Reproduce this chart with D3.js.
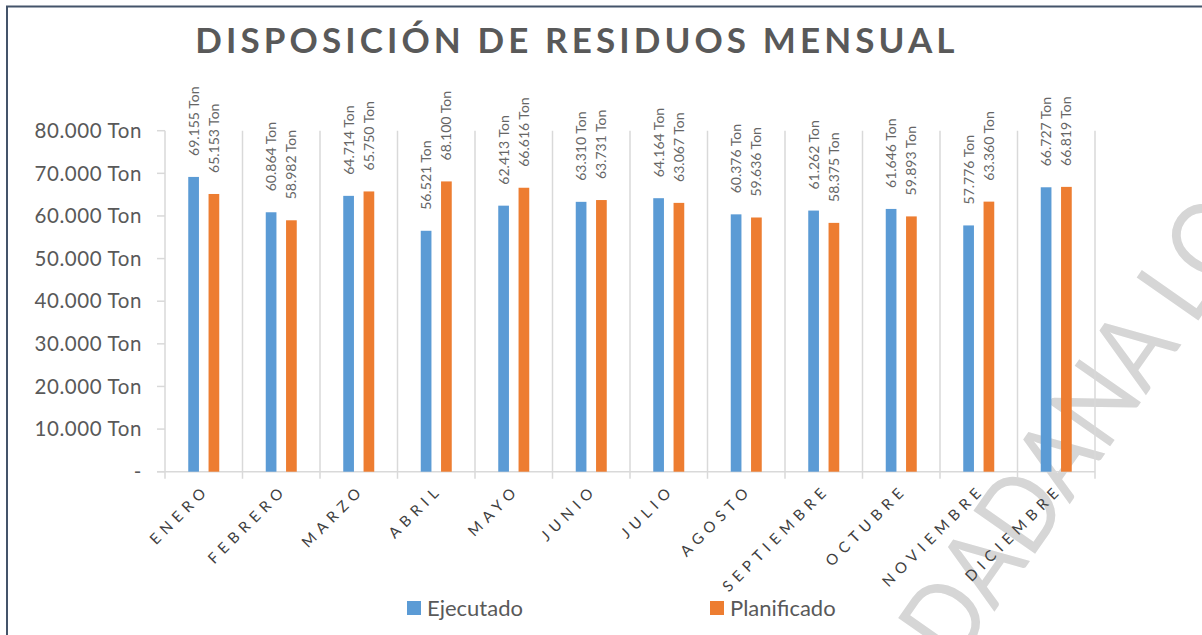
<!DOCTYPE html>
<html lang="es">
<head>
<meta charset="utf-8">
<script src="https://d3js.org/d3.v7.min.js"></script>
<title>Disposición de residuos mensual</title>
<style>
  body { margin: 0; background: #fff; }
  svg { display: block; font-family: Lato, "Open Sans", sans-serif; }
  .grid { stroke: #d9d9d9; stroke-width: 1.5px; fill: none; }
  .ytick { fill: #595959; font-size: 20.5px; letter-spacing: 0.6px; }
  .xlab { fill: #404040; font-size: 15px; letter-spacing: 5.5px; }
  .vlab { fill: #666666; font-size: 14px; }
  .legend text { fill: #595959; font-size: 22px; }
</style>
</head>
<body>
<script>
var width = 1202, height = 635;

var meses = ["ENERO", "FEBRERO", "MARZO", "ABRIL", "MAYO", "JUNIO", "JULIO",
             "AGOSTO", "SEPTIEMBRE", "OCTUBRE", "NOVIEMBRE", "DICIEMBRE"];
var series = ["Ejecutado", "Planificado"];
var ejecutado   = [69155, 60864, 64714, 56521, 62413, 63310, 64164, 60376, 61262, 61646, 57776, 66727];
var planificado = [65153, 58982, 65750, 68100, 66616, 63731, 63067, 59636, 58375, 59893, 63360, 66819];
var yTicks = [0, 10000, 20000, 30000, 40000, 50000, 60000, 70000, 80000];
var colores = ["#5b9bd5", "#ed7d31"];

var fmt = d3.formatLocale({decimal: ",", thousands: ".", grouping: [3], currency: ["", ""]}).format(",.0f");
function tonLabel(v) { return v === 0 ? "-" : fmt(v) + " Ton"; }

var svg = d3.select("body").append("svg")
    .attr("width", width)
    .attr("height", height);

// marca de agua (debajo del grafico)
svg.append("text")
    .attr("transform", "translate(955,668) rotate(-55) scale(0.88,1)")
    .style("font-size", "105px")
    .style("fill", "#d6d6d6")
    .text("DADANA LO");

// marco
svg.append("path")
    .attr("d", "M7,635 L7,6.5 L1202,6.5")
    .attr("fill", "none")
    .attr("stroke", "#44546a")
    .attr("stroke-width", 2);

var x = d3.scaleBand().domain(meses).range([165, 1095]);
var y = d3.scaleLinear().domain([0, 80000]).range([471.7, 130.7]);
var xs = d3.scaleBand().domain(series)
    .range([x.bandwidth() * 0.3, x.bandwidth() * 0.7])
    .paddingInner(0.473);

// titulo
svg.append("text")
    .attr("x", 577).attr("y", 53)
    .attr("text-anchor", "middle")
    .style("font-size", "35px")
    .style("font-weight", "bold")
    .style("letter-spacing", "4.1px")
    .style("fill", "#595959")
    .text("DISPOSICIÓN DE RESIDUOS MENSUAL");

// lineas verticales por categoria
var bordes = meses.map(function(m) { return x(m); }).concat([x.range()[1]]);
svg.selectAll(".vgrid").data(bordes).enter().append("line")
    .attr("class", "grid")
    .attr("x1", function(d) { return d; }).attr("x2", function(d) { return d; })
    .attr("y1", y(80000)).attr("y2", y(0) + 7);

// eje horizontal
svg.append("line").attr("class", "grid")
    .attr("x1", 157).attr("x2", x.range()[1])
    .attr("y1", y(0)).attr("y2", y(0));

// marcas y etiquetas del eje Y
svg.selectAll(".ymark").data(yTicks).enter().append("line")
    .attr("class", "grid")
    .attr("x1", 157).attr("x2", 165)
    .attr("y1", function(d) { return y(d); }).attr("y2", function(d) { return y(d); });

svg.selectAll(".ytick").data(yTicks).enter().append("text")
    .attr("class", "ytick")
    .attr("x", 142)
    .attr("y", function(d) { return y(d); })
    .attr("dy", "0.35em")
    .attr("text-anchor", "end")
    .text(tonLabel);

// barras
var datos = [];
meses.forEach(function(m, i) {
  datos.push({mes: m, serie: series[0], v: ejecutado[i]});
  datos.push({mes: m, serie: series[1], v: planificado[i]});
});

svg.selectAll(".bar").data(datos).enter().append("rect")
    .attr("class", "bar")
    .attr("x", function(d) { return x(d.mes) + xs(d.serie); })
    .attr("width", xs.bandwidth())
    .attr("y", function(d) { return y(d.v); })
    .attr("height", function(d) { return y(0) - y(d.v); })
    .attr("fill", function(d) { return colores[series.indexOf(d.serie)]; });

// etiquetas de valores
svg.selectAll(".vlab").data(datos).enter().append("text")
    .attr("class", "vlab")
    .attr("transform", function(d) {
      var cx = x(d.mes) + xs(d.serie) + xs.bandwidth() / 2;
      return "translate(" + cx + "," + (y(d.v) - 21) + ") rotate(-90)";
    })
    .attr("dy", "0.35em")
    .text(function(d) { return tonLabel(d.v); });

// etiquetas de meses
svg.selectAll(".xlab").data(meses).enter().append("text")
    .attr("class", "xlab")
    .attr("text-anchor", "end")
    .attr("transform", function(d) {
      var cx = x(d) + x.bandwidth() / 2 + 7;
      return "translate(" + cx + "," + (y(0) + 19) + ") rotate(-45)";
    })
    .text(function(d) { return d; });

// leyenda
var leyX = [407, 710];
var ley = svg.append("g").attr("class", "legend");
series.forEach(function(s, i) {
  ley.append("rect").attr("x", leyX[i]).attr("y", 601).attr("width", 14).attr("height", 14)
      .attr("fill", colores[i]);
  ley.append("text").attr("x", leyX[i] + 20).attr("y", 615.5).text(s);
});
</script>
</body>
</html>
